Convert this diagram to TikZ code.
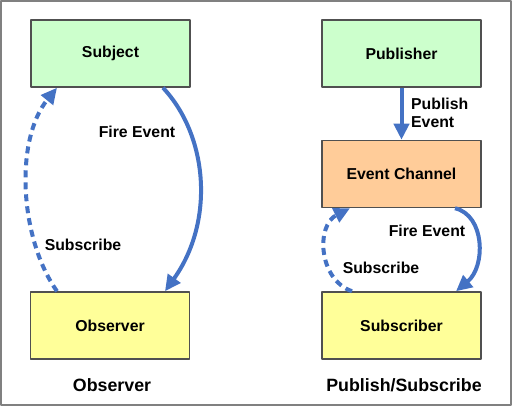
\documentclass[tikz,border=0pt]{standalone}
\usepackage{fontspec}
\setmainfont{Liberation Sans}
\usetikzlibrary{arrows.meta}
\definecolor{arrowblue}{RGB}{68,114,196}
\definecolor{boxgreen}{RGB}{204,255,204}
\definecolor{boxyellow}{RGB}{255,255,153}
\definecolor{boxorange}{RGB}{255,204,153}
\definecolor{boxline}{RGB}{80,80,80}
\begin{document}
\begin{tikzpicture}[x=1pt,y=-1pt,line join=round,>={Triangle[length=16pt,width=15pt]},
	font=\fontsize{15.8}{18}\selectfont\bfseries,
	box/.style={draw=boxline,line width=1.5pt,minimum width=159pt,minimum height=67pt,inner sep=0pt},
	flow/.style={->,draw=arrowblue,line width=4pt},
	sub/.style={flow,dash pattern=on 7pt off 5pt},
	title/.style={font=\fontsize{17.8}{20}\selectfont\bfseries}]
	\useasboundingbox (0,0) rectangle (512,406);
	\draw[gray,line width=2pt] (1,1) rectangle (511,405);
	% === Observer ===
	\node[box,fill=boxgreen] (subject) at (110.5,53.5) {Subject};
	\node[box,fill=boxyellow] (observer) at (110,325.5) {Observer};
	\draw[flow] ([xshift=52.5pt]subject.south) .. controls +(45,48) and +(50,-70) .. ([xshift=55pt]observer.north);
	\draw[sub] ([xshift=-53pt]observer.north) .. controls +(-37,-52) and +(-43,53) .. ([xshift=-53.5pt]subject.south);
	\node (fire1) at (137,132) {Fire Event};
	\node (subscribe1) at (83,245) {Subscribe};
	\node[title] (observertitle) at (112,385) {Observer};
	% === Publish/Subscribe ===
	\node[box,fill=boxgreen] (publisher) at (401.5,53.5) {Publisher};
	\node[box,fill=boxorange] (channel) at (401.5,174) {Event Channel};
	\node[box,fill=boxyellow] (subscriber) at (401.5,325.5) {Subscriber};
	\draw[flow] (publisher) -- (channel);
	\node[anchor=west,align=left,inner sep=0pt] (publish) at (411,113) {Publish\\Event};
	\draw[flow] ([xshift=53.5pt]channel.south) .. controls +(30,7) and +(30,-25) .. ([xshift=54.5pt]subscriber.north);
	\draw[sub] ([xshift=-49.5pt]subscriber.north) .. controls +(-34,-12) and +(-34,17) .. ([xshift=-51.5pt]channel.south);
	\node (fire2) at (427,231) {Fire Event};
	\node (subscribe2) at (381,268) {Subscribe};
	\node[title] (pubsubtitle) at (404,385) {Publish/Subscribe};
\end{tikzpicture}
\end{document}
